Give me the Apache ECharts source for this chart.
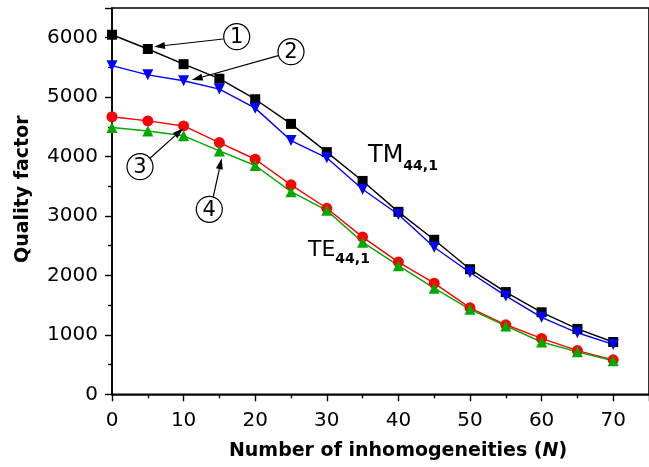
<!DOCTYPE html>
<html><head><meta charset="utf-8">
<script src="https://cdn.jsdelivr.net/npm/echarts@6/dist/echarts.min.js"></script>
<style>html,body{margin:0;padding:0;background:#fff}#c{width:649px;height:467px}</style>
</head><body><div id="c"></div>
<script>
const xValues = [0,5,10,15,20,25,30,35,40,45,50,55,60,65,70];
const tm1 = [6050,5810,5555,5310,4965,4550,4075,3590,3070,2600,2105,1720,1380,1100,880];
const tm2 = [5530,5375,5275,5135,4815,4270,3980,3450,3025,2475,2050,1655,1295,1035,840];
const te3 = [4670,4600,4515,4235,3955,3525,3130,2645,2225,1870,1455,1170,940,735,580];
const te4 = [4490,4430,4350,4095,3850,3410,3095,2560,2165,1785,1430,1150,880,715,565];
const FONT = 'DejaVu Sans, sans-serif';

function pairs(ys){ return xValues.map((x,i)=>[x, ys[i]]); }
function mk(name, ys, color, symbol, size, rot){
  return {name, type:'line', data:pairs(ys), symbol, symbolSize:size, symbolRotate:rot||0,
    lineStyle:{color, width:1.4}, itemStyle:{color}, showSymbol:true, animation:false, z:2};
}
const chart = echarts.init(document.getElementById('c'), null, {renderer:'canvas'});
const axisLine = {lineStyle:{color:'#000', width:1.6}};
const tickStyle = {color:'#000', width:1.4};
chart.setOption({
  animation:false,
  grid:{left:112, top:8, right:-10, bottom:72.7, show:true, borderColor:'#000', borderWidth:1.6, backgroundColor:'transparent'},
  xAxis:{type:'value', min:0, max:75, interval:10,
    name:'Number of inhomogeneities ({i|N})', nameLocation:'middle', nameGap:47,
    nameTextStyle:{fontFamily:FONT, fontWeight:'bold', fontSize:19, color:'#000', padding:[0,0,0,35],
      rich:{i:{fontFamily:FONT, fontWeight:'bold', fontStyle:'italic', fontSize:19, color:'#000'}}},
    axisLine, axisTick:{show:true, inside:false, length:7, lineStyle:tickStyle},
    minorTick:{show:true, splitNumber:2, length:4, lineStyle:tickStyle},
    axisLabel:{fontFamily:FONT, fontSize:20, color:'#000', margin:16, showMaxLabel:false, formatter:v=>String(v)},
    splitLine:{show:false}},
  yAxis:{type:'value', min:0, max:6500, interval:1000,
    name:'Quality factor', nameLocation:'middle', nameGap:79,
    nameTextStyle:{fontFamily:FONT, fontWeight:'bold', fontSize:19, color:'#000', padding:[0,0,0,24]},
    axisLine, axisTick:{show:true, inside:false, length:7, lineStyle:tickStyle},
    minorTick:{show:true, splitNumber:2, length:4, lineStyle:tickStyle},
    axisLabel:{fontFamily:FONT, fontSize:20, color:'#000', margin:14, showMaxLabel:false, formatter:v=>String(v)},
    splitLine:{show:false}},
  series:[
    mk('1', tm1, '#000000', 'rect', 10),
    mk('2', tm2, '#0000ff', 'triangle', 11, 180),
    mk('3', te3, '#ff0000', 'circle', 11),
    mk('4', te4, '#00a800', 'triangle', 11)
  ]
});

// annotations (pixel layout)
const callouts = [
  {label:'1', c:[236.7,36.7], tail:[223.3,39], tip:[154,46.7]},
  {label:'2', c:[291,51.7], tail:[278.3,55.7], tip:[191.7,80]},
  {label:'3', c:[140,166.7], tail:[150,158.3], tip:[183.3,128.3]},
  {label:'4', c:[209.3,209.3], tail:[213.3,196.7], tip:[221.7,158.3]}
];
const g = [];
callouts.forEach(co=>{
  g.push({type:'circle', shape:{cx:co.c[0], cy:co.c[1], r:13}, style:{fill:'#fff', stroke:'#000', lineWidth:1.2}, z:10});
  g.push({type:'text', x:co.c[0], y:co.c[1]+1, style:{text:co.label, fontFamily:FONT, fontSize:21, fill:'#000', align:'center', verticalAlign:'middle'}, z:11});
  const dx=co.tip[0]-co.tail[0], dy=co.tip[1]-co.tail[1], L=Math.hypot(dx,dy), ux=dx/L, uy=dy/L;
  const hl=11, hw=3.5;
  const bx=co.tip[0]-ux*hl, by=co.tip[1]-uy*hl;
  g.push({type:'line', shape:{x1:co.tail[0], y1:co.tail[1], x2:bx, y2:by}, style:{stroke:'#000', lineWidth:1.2}, z:10});
  g.push({type:'polygon', shape:{points:[co.tip,[bx-uy*hw, by+ux*hw],[bx+uy*hw, by-ux*hw]]}, style:{fill:'#000'}, z:10});
});
function label(x, y, main, sub, size){
  g.push({type:'text', x, y, style:{text:'{m|'+main+'}{s|'+sub+'}', verticalAlign:'bottom',
    rich:{m:{fontFamily:FONT, fontSize:size, fill:'#000', verticalAlign:'bottom'},
          s:{fontFamily:FONT, fontSize:14, fontWeight:'bold', fill:'#000', verticalAlign:'bottom', padding:[0,0,-5,0]}}}, z:10});
}
label(368, 168, 'TM', '44,1', 24);
label(308, 261, 'TE', '44,1', 22);
chart.setOption({graphic:g});
</script></body></html>
